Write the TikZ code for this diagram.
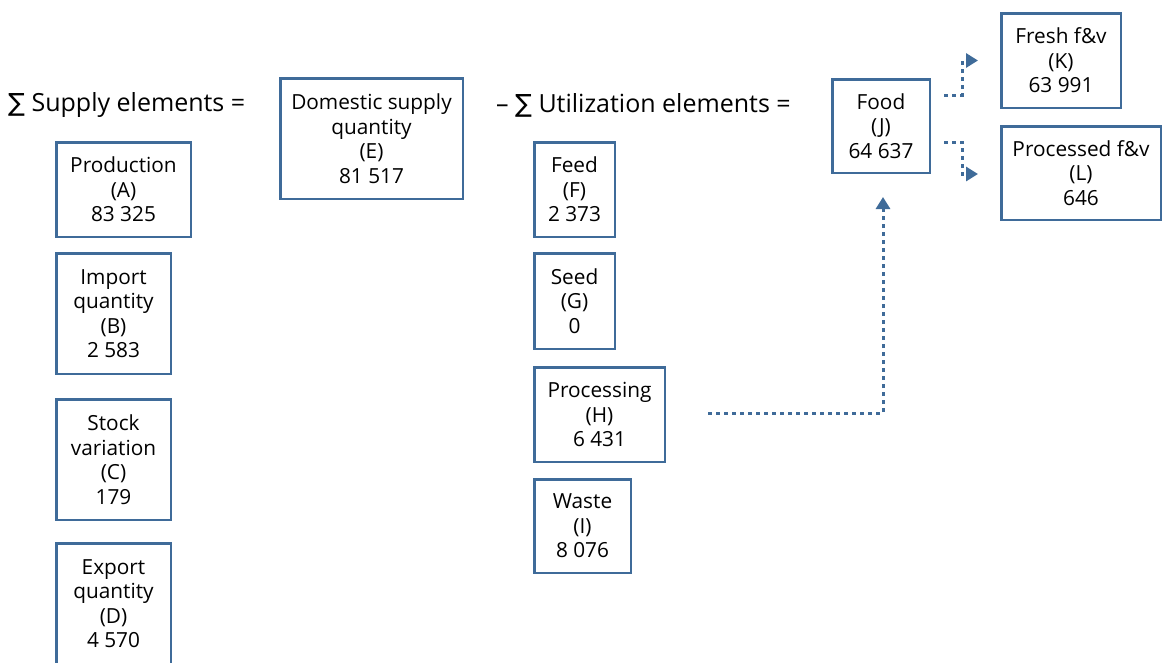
\documentclass[tikz,border=0pt]{standalone}
\usepackage{fontspec}
\setmainfont{Open Sans}
\newfontfamily\symfont{DejaVu Sans}
\usetikzlibrary{arrows.meta,calc}
\definecolor{boxblue}{HTML}{3F6B99}
\tikzset{
  box/.style={draw=boxblue, line width=2.5pt, fill=white, align=center, inner sep=0pt,
    font=\fontsize{20.8}{24.5}\selectfont},
  flow/.style={draw=boxblue, line width=3pt, dash pattern=on 4pt off 4pt,
    -{Triangle[length=12pt,width=14pt]}},
  lab/.style={font=\fontsize{25}{29}\selectfont, inner sep=0pt, anchor=west}
}
\begin{document}
\begin{tikzpicture}[x=1pt,y=-1pt]
\useasboundingbox (0,0) rectangle (1163,662);
\node[lab] (sup) at (8,105) {{\symfont ∑} Supply elements =};
\node[lab] (uti) at (496,105) {– {\symfont ∑} Utilization elements =};

\node[box, minimum width=134.5, minimum height=94.5] (A) at (123.5,189.5) {Production\\(A)\\83 325};
\node[box, minimum width=114.5, minimum height=120.5] (B) at (113.5,313.5) {Import\\quantity\\(B)\\2 583};
\node[box, minimum width=114.5, minimum height=120.5] (C) at (113.5,459.5) {Stock\\variation\\(C)\\179};
\node[box, minimum width=114.5, minimum height=120.5] (D) at (113.5,603.5) {Export\\quantity\\(D)\\4 570};
\node[box, minimum width=182.5, minimum height=120.5] (E) at (371.5,138.5) {Domestic supply\\quantity\\(E)\\81 517};

\node[box, minimum width=80.5, minimum height=94.5] (F) at (574.5,189.5) {Feed\\(F)\\2 373};
\node[box, minimum width=80.5, minimum height=95.5] (G) at (574.5,301) {Seed\\(G)\\0};
\node[box, minimum width=130.5, minimum height=94.5] (H) at (599.5,414.5) {Processing\\(H)\\6 431};
\node[box, minimum width=96.5, minimum height=93.5] (I) at (582.5,526) {Waste\\(I)\\8 076};

\node[box, minimum width=97.5, minimum height=93.5] (J) at (881,126) {Food\\(J)\\64 637};
\node[box, minimum width=119.5, minimum height=94.5] (K) at (1061,60.5) {Fresh f\&v\\(K)\\63 991};
\node[box, minimum width=159.5, minimum height=93.5] (L) at (1081,173) {Processed f\&v\\(L)\\646};

\coordinate (hs) at ($(H.east)+(42,-1.5)$);
\draw[flow] (hs) -| ($(J.south)+(2,23)$);
\coordinate (js1) at ($(J.east)+(13,-31)$);
\coordinate (js2) at ($(J.east)+(13,16)$);
\draw[flow] (js1) -- ++(18,0) |- ($(K.west)+(-22,0)$);
\draw[flow] (js2) -- ++(18,0) |- ($(L.west)+(-22,1)$);
\end{tikzpicture}
\end{document}
